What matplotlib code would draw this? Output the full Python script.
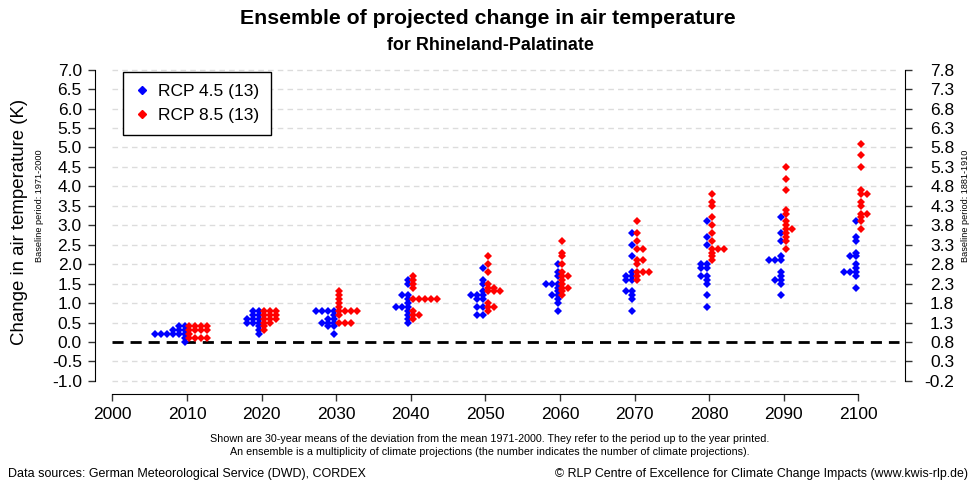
import matplotlib
matplotlib.use("Agg")
import numpy as np
import matplotlib.pyplot as plt
from matplotlib.lines import Line2D
from collections import Counter

plt.rcParams['font.family'] = ['Liberation Sans', 'DejaVu Sans']

years = [2010, 2020, 2030, 2040, 2050, 2060, 2070, 2080, 2090, 2100]

# 13 climate projections per period, values in K (deviation from 1971-2000)
rcp45 = [
    [0.4, 0.4, 0.3, 0.3, 0.3, 0.2, 0.2, 0.2, 0.2, 0.2, 0.2, 0.1, 0.0],
    [0.8, 0.8, 0.7, 0.7, 0.6, 0.6, 0.6, 0.5, 0.5, 0.5, 0.4, 0.3, 0.2],
    [0.8, 0.8, 0.8, 0.8, 0.7, 0.6, 0.6, 0.5, 0.5, 0.5, 0.4, 0.4, 0.2],
    [1.6, 1.5, 1.2, 1.2, 1.1, 1.0, 0.9, 0.9, 0.9, 0.8, 0.7, 0.6, 0.5],
    [1.9, 1.6, 1.5, 1.3, 1.2, 1.2, 1.2, 1.1, 1.1, 0.9, 0.9, 0.7, 0.7],
    [2.0, 1.8, 1.7, 1.5, 1.5, 1.5, 1.4, 1.3, 1.2, 1.2, 1.1, 1.0, 0.8],
    [2.8, 2.5, 2.2, 1.8, 1.7, 1.7, 1.6, 1.6, 1.3, 1.3, 1.2, 1.1, 0.8],
    [3.1, 2.7, 2.5, 2.0, 2.0, 1.9, 1.9, 1.7, 1.7, 1.6, 1.5, 1.2, 0.9],
    [3.2, 2.8, 2.6, 2.2, 2.1, 2.1, 2.1, 1.8, 1.7, 1.6, 1.6, 1.5, 1.2],
    [3.1, 2.7, 2.6, 2.3, 2.2, 2.2, 2.0, 1.9, 1.8, 1.8, 1.8, 1.7, 1.4],
]
rcp85 = [
    [0.4, 0.4, 0.4, 0.4, 0.3, 0.3, 0.3, 0.3, 0.2, 0.1, 0.1, 0.1, 0.1],
    [0.8, 0.8, 0.8, 0.7, 0.7, 0.7, 0.6, 0.6, 0.6, 0.5, 0.5, 0.4, 0.3],
    [1.3, 1.2, 1.1, 1.0, 0.9, 0.8, 0.8, 0.8, 0.8, 0.7, 0.5, 0.5, 0.5],
    [1.7, 1.6, 1.5, 1.4, 1.1, 1.1, 1.1, 1.1, 1.1, 0.8, 0.7, 0.7, 0.6],
    [2.2, 2.0, 1.8, 1.5, 1.4, 1.4, 1.3, 1.3, 1.3, 1.0, 0.9, 0.9, 0.8],
    [2.6, 2.3, 2.2, 2.0, 1.8, 1.7, 1.7, 1.6, 1.5, 1.4, 1.4, 1.3, 1.2],
    [3.1, 2.8, 2.6, 2.4, 2.4, 2.1, 2.1, 2.0, 1.8, 1.8, 1.8, 1.7, 1.6],
    [3.8, 3.6, 3.5, 3.2, 3.0, 2.8, 2.6, 2.4, 2.4, 2.4, 2.3, 2.2, 2.1],
    [4.5, 4.2, 3.9, 3.4, 3.3, 3.1, 3.0, 2.9, 2.9, 2.8, 2.7, 2.6, 2.4],
    [5.1, 4.8, 4.5, 3.9, 3.8, 3.8, 3.6, 3.5, 3.3, 3.3, 3.2, 3.1, 2.9],
]

left_ticks = np.arange(-1.0, 7.01, 0.5)
right_ticks = np.arange(-0.2, 7.81, 0.5)


def swarm(values, year, side):
    # equal values are stacked sideways, blue to the left, red to the right
    xs, ys = [], []
    seen = Counter()
    for v in values:
        k = seen[v]
        seen[v] += 1
        xs.append(year + side * (0.33 + 0.8 * k))
        ys.append(v)
    return xs, ys


W, H = 977, 482
fig = plt.figure(figsize=(W / 100, H / 100), dpi=100)
ax = fig.add_axes([95 / W, 1 - 394 / H, 810 / W, (394 - 58) / H])

ylo, yhi = -1.337, 7.30
ax.set_xlim(1997.67, 2106.25)
ax.set_ylim(ylo, yhi)

for t in left_ticks:
    if abs(t) > 1e-9:
        ax.plot([2000, 2105.5], [t, t], color='#dcdcdc', lw=1, ls=(0, (4, 3)), zorder=1)
ax.plot([2000, 2105.5], [0, 0], color='black', lw=2, ls=(0, (4, 2.5)), zorder=2)

for i, yr in enumerate(years):
    x, y = swarm(rcp45[i], yr, -1)
    ax.plot(x, y, 'D', color='#0000ff', markersize=3.9, markeredgewidth=0, zorder=3)
    x, y = swarm(rcp85[i], yr, 1)
    ax.plot(x, y, 'D', color='#ff0000', markersize=3.9, markeredgewidth=0, zorder=3)

for s in ['top', 'right']:
    ax.spines[s].set_visible(False)
ax.spines['left'].set_bounds(-1, 7)
ax.spines['bottom'].set_bounds(2000, 2100)
ax.set_xticks(range(2000, 2101, 10))
ax.set_yticks(left_ticks)
ax.set_yticklabels(['%.1f' % t for t in left_ticks])
ax.tick_params(axis='both', labelsize=12.5, length=5, width=1, color='#333333')
ax.tick_params(axis='y', pad=4.5)
ax.tick_params(axis='x', pad=4.5)

ax2 = ax.twinx()
ax2.set_ylim(ylo + 0.8, yhi + 0.8)
for s in ['top', 'left', 'bottom']:
    ax2.spines[s].set_visible(False)
ax2.spines['right'].set_bounds(-0.2, 7.8)
ax2.set_yticks(right_ticks)
ax2.set_yticklabels(['%.1f' % t for t in right_ticks])
ax2.tick_params(axis='y', labelsize=12.5, length=5, width=1, color='#333333', pad=30.5)
for lab in ax2.get_yticklabels():
    lab.set_horizontalalignment('right')

handles = [Line2D([], [], ls='', marker='D', color='#0000ff', markersize=4.5),
           Line2D([], [], ls='', marker='D', color='#ff0000', markersize=4.5)]
leg = ax.legend(handles, ['RCP 4.5 (13)', 'RCP 8.5 (13)'], loc='upper left',
                bbox_to_anchor=(123 / W, 1 - 72 / H), bbox_transform=fig.transFigure,
                fontsize=12.5, fancybox=False, edgecolor='black', framealpha=1,
                handlelength=0.8, handletextpad=0.5, borderpad=0.7, labelspacing=0.5,
                borderaxespad=0)
leg.get_frame().set_linewidth(1)

fig.text(488 / W, 1 - 18 / H, 'Ensemble of projected change in air temperature',
         ha='center', va='center', fontsize=15.3, fontweight='bold')
fig.text(490 / W, 1 - 45 / H, 'for Rhineland-Palatinate',
         ha='center', va='center', fontsize=12.9, fontweight='bold')
fig.text(20 / W, 1 - 222 / H, 'Change in air temperature (K)', rotation=90,
         ha='center', va='center', fontsize=13.4)
fig.text(40 / W, 1 - 206 / H, 'Baseline period: 1971-2000', rotation=90,
         ha='center', va='center', fontsize=6.6)
fig.text(966 / W, 1 - 206 / H, 'Baseline period: 1881-1910', rotation=90,
         ha='center', va='center', fontsize=6.6)
fig.text(490 / W, 1 - 439 / H,
         'Shown are 30-year means of the deviation from the mean 1971-2000. '
         'They refer to the period up to the year printed.',
         ha='center', va='center', fontsize=7.75)
fig.text(490 / W, 1 - 452 / H,
         'An ensemble is a multiplicity of climate projections '
         '(the number indicates the number of climate projections).',
         ha='center', va='center', fontsize=7.75)
fig.text(8 / W, 1 - 474 / H, 'Data sources: German Meteorological Service (DWD), CORDEX',
         ha='left', va='center', fontsize=9)
fig.text(968 / W, 1 - 474 / H,
         '\u00a9 RLP Centre of Excellence for Climate Change Impacts (www.kwis-rlp.de)',
         ha='right', va='center', fontsize=8.9)

fig.savefig('out.png', dpi=100)
